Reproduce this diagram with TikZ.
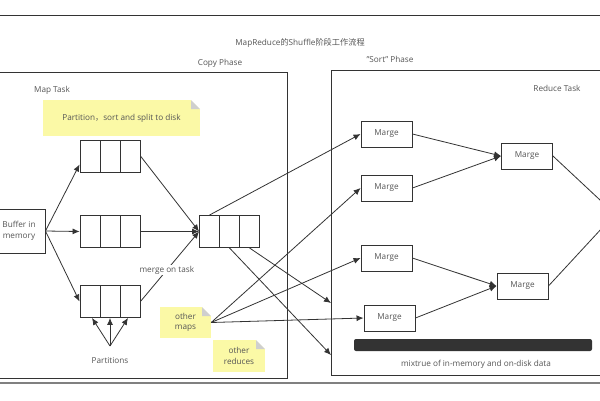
\documentclass[tikz,border=0pt]{standalone}
\usepackage{fontspec}
\setmainfont{Open Sans}
\newfontfamily\cjk{Noto Sans CJK SC}
\usetikzlibrary{positioning,arrows.meta,calc}
\definecolor{linec}{HTML}{333333}
\definecolor{textc}{HTML}{555555}
\definecolor{notey}{HTML}{FBF9A6}
\definecolor{foldc}{HTML}{CFCFCF}
\tikzset{
  every node/.style={font=\fontsize{8.2}{10.5}\selectfont, text=textc},
  box/.style={draw=linec, line width=0.9pt, fill=white, inner sep=0pt, align=center},
  buf/.style={box, minimum width=60pt, minimum height=32pt,
    path picture={\foreach \f in {0.333,0.667}
      \draw[linec, line width=0.9pt] ($(path picture bounding box.south west)!\f!(path picture bounding box.south east)$) -- ($(path picture bounding box.north west)!\f!(path picture bounding box.north east)$);}},
  marge/.style={box, minimum width=51pt, minimum height=26pt},
  note/.style={fill=notey, inner sep=0pt, align=center,
    path picture={
      \fill[white] ([xshift=-9pt]path picture bounding box.north east) -- (path picture bounding box.north east) -- ([yshift=-9pt]path picture bounding box.north east) -- cycle;
      \fill[foldc] ([xshift=-9pt]path picture bounding box.north east) -- ([xshift=-9pt,yshift=-9pt]path picture bounding box.north east) -- ([yshift=-9pt]path picture bounding box.north east) -- cycle;}},
  arr/.style={draw=linec, line width=0.8pt, -{Latex[length=7pt,width=6pt]}},
  ln/.style={draw=linec, line width=0.8pt}
}
\begin{document}
\begin{tikzpicture}[x=1pt,y=-1pt]
\useasboundingbox (0,0) rectangle (600,400);
\clip (0,0) rectangle (600,400);
\fill[white] (0,0) rectangle (600,400);
% frames
\draw[linec, line width=0.8pt] (0,15) -- (600,15);
\draw[gray, line width=1.4pt] (0,383) -- (600,383);
\draw[linec, line width=0.9pt] (-5,72) rectangle (287,378);
\draw[linec, line width=0.9pt] (331,70) rectangle (615,375);
\node (title) at (300,43) {MapReduce{\cjk 的}Shuffle{\cjk 阶段工作流程}};
\node (copy) at (220,63) {Copy Phase};
\node (sort) at (390,59) {"Sort" Phase};
\node (maptask) at (52,90) {Map Task};
\node (redtask) at (557,88) {Reduce Task};

% map side
\node[note, minimum width=157pt, minimum height=36pt] (psd) at (121.5,118) {Partition{\cjk ，}sort and split to disk};
\node[box, minimum width=52pt, minimum height=44pt] (mem) at (19,231) {Buffer in\\memory};
\node[buf] (b1) at (110,156) {};
\node[buf] (b2) at (110,231.5) {};
\node[buf] (b3) at (110,301.5) {};
\node[buf] (bm) at (229.5,231.5) {};
\node (part) at (110,361) {Partitions};
\coordinate (pfork) at (110,346);
\node[note, minimum width=51pt, minimum height=31pt] (omaps) at (185.5,322.5) {other\\maps};
\node[note, minimum width=52pt, minimum height=32pt] (ored) at (239,356) {other\\reduces};

\draw[arr] (mem.east) -- ([yshift=8pt]b1.south west);
\draw[arr] (mem.east) -- (b2.west);
\draw[arr] (mem.east) -- (b3.west);
\draw[arr] (b1.east) -- (bm.west);
\draw[arr] (b2.east) -- (bm.west);
\draw[arr] (b3.east) -- node[fill=white, inner sep=1pt, pos=0.45] (mot) {merge on task} (bm.west);
\foreach \dx in {-18,0,18}
  \draw[arr] (pfork) -- ([xshift=\dx pt]b3.south);

% reduce side
\node[marge] (m1) at (386.5,134) {Marge};
\node[marge] (m2) at (386.5,188) {Marge};
\node[marge] (m3) at (386.5,258) {Marge};
\node[marge] (m4) at (389.5,318) {Marge};
\node[marge] (m5) at (527,156) {Marge};
\node[marge] (m6) at (522.5,286) {Marge};
\node[fill=linec, rounded corners=2pt, minimum width=238pt, minimum height=12pt, inner sep=0pt] (bar) at (473,345) {};
\node (mix) at (476,364) {mixtrue of in-memory and on-disk data};
\coordinate (e1) at (331,303);
\coordinate (e2) at (331,355);
\coordinate (out) at (615,214);

\draw[arr] ([xshift=-20pt]bm.north) -- (m1.west);
\draw[arr] ([xshift=20pt]bm.south) -- (e1);
\draw[arr] (bm.south) -- (e2);
\draw[arr] (omaps.east) -- (m2.west);
\draw[arr] (omaps.east) -- (m3.west);
\draw[arr] (omaps.east) -- (m4.west);
\draw[arr] (m1.east) -- (m5.west);
\draw[arr] (m2.east) -- (m5.west);
\draw[arr] (m3.east) -- (m6.west);
\draw[arr] (m4.east) -- (m6.west);
\draw[ln] (m5.east) -- (out);
\draw[ln] (m6.east) -- (out);
\end{tikzpicture}
\end{document}
